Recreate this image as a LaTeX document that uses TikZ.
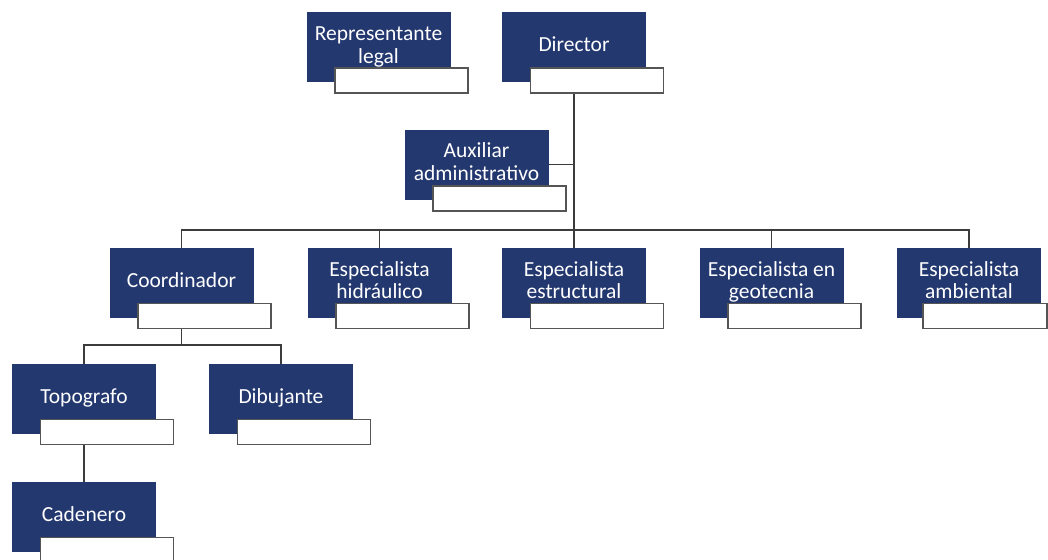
\documentclass[tikz,border=0pt]{standalone}
\usepackage{fontspec}
\setmainfont{Carlito}
\usetikzlibrary{calc,backgrounds}
\definecolor{navy}{RGB}{36,56,112}
\definecolor{linegray}{RGB}{60,60,60}
\definecolor{boxgray}{RGB}{85,85,85}
\tikzset{
  role/.style={rectangle, fill=navy, draw=none, minimum width=144pt, minimum height=70pt,
    inner sep=0pt, align=center, text=white,
    font=\fontsize{21.5}{22.5}\selectfont},
  tag/.style={rectangle, fill=white, draw=boxgray, line width=1.5pt,
    minimum width=133pt, minimum height=25pt, inner sep=0pt},
  link/.style={draw=linegray, line width=1.6pt}
}
\newcommand{\roletext}[1]{\raisebox{3pt}{\begin{tabular}{@{}c@{}}#1\end{tabular}}}
\begin{document}
\begin{tikzpicture}[x=1pt,y=-1pt]
\useasboundingbox (0,0) rectangle (1048,559);
% roles
\node[role] (rep)   at (378.5,47.5) {\roletext{Representante\\legal}};
\node[role] (dir)   at (574,47.5)   {\roletext{Director}};
\node[role] (aux)   at (476.5,164.5){\roletext{Auxiliar\\administrativo}};
\node[role] (coord) at (181.5,283)  {\roletext{Coordinador}};
\node[role] (hid)   at (379.5,283)  {\roletext{Especialista\\hidráulico}};
\node[role] (estr)  at (574,283)    {\roletext{Especialista\\estructural}};
\node[role] (geo)   at (771.5,283)  {\roletext{Especialista en\\geotecnia}};
\node[role] (amb)   at (969,283)    {\roletext{Especialista\\ambiental}};
\node[role] (topo)  at (84,399)     {\roletext{Topografo}};
\node[role] (dib)   at (281,399)    {\roletext{Dibujante}};
\node[role] (cad)   at (84,517)     {\roletext{Cadenero}};
% name tags
\node[tag] (rep-t)   at ($(rep)+(23,33)$) {};
\node[tag] (dir-t)   at ($(dir)+(23,33)$) {};
\node[tag] (aux-t)   at ($(aux)+(23,34)$) {};
\node[tag] (coord-t) at ($(coord)+(23,33)$) {};
\node[tag] (hid-t)   at ($(hid)+(23,33)$) {};
\node[tag] (estr-t)  at ($(estr)+(23,33)$) {};
\node[tag] (geo-t)   at ($(geo)+(23,33)$) {};
\node[tag, minimum width=124pt] (amb-t) at ($(amb)+(16,33)$) {};
\node[tag] (topo-t)  at ($(topo)+(23,33)$) {};
\node[tag] (dib-t)   at ($(dib)+(23,33)$) {};
\node[tag] (cad-t)   at ($(cad)+(23,33)$) {};
% connectors
\coordinate (bus) at (0,230);
\coordinate (sub) at (0,345);
\begin{scope}[on background layer]
\draw[link] (dir.center) -- (estr.center);
\draw[link] (aux.center) -- (aux.center -| dir.center);
\draw[link] (coord.center) -- (coord.center |- bus) -- (amb.center |- bus) -- (amb.center);
\draw[link] (hid.center |- bus) -- (hid.center);
\draw[link] (geo.center |- bus) -- (geo.center);
\draw[link] (coord.center) -- (coord.center |- sub);
\draw[link] (topo.center) -- (topo.center |- sub) -- (dib.center |- sub) -- (dib.center);
\draw[link] (topo.center) -- (cad.center);
\end{scope}
\end{tikzpicture}
\end{document}
